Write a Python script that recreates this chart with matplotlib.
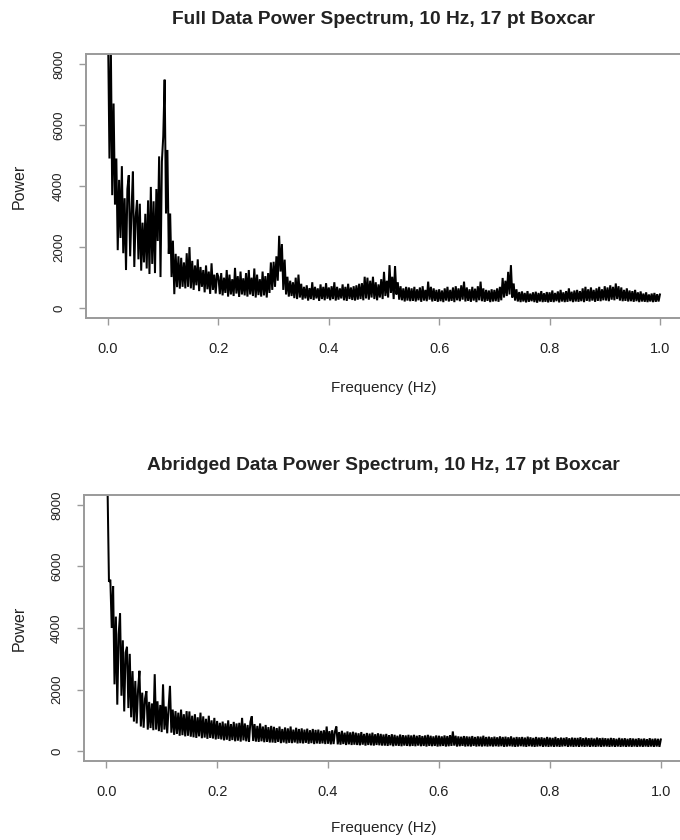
import numpy as np
import matplotlib
matplotlib.use("Agg")
import matplotlib.pyplot as plt

plt.rcParams['font.family'] = ['Liberation Sans', 'DejaVu Sans']

# frequency grid, 0.0025 Hz steps from 0 to 1 Hz
freq = np.arange(401) * 0.0025

# power, 20 values per 0.05 Hz
full_power = [
    9000, 4900, 8600, 3700, 6700, 3400, 4900, 1900, 4200, 2300, 4650, 1800, 3600, 1250, 3900, 4350, 1700, 3200, 4470, 1350,
    3000, 3530, 1600, 3420, 1230, 2800, 1500, 3090, 1300, 3530, 1120, 3970, 1450, 3500, 1150, 3900, 2200, 4970, 1020, 4800,
    5630, 7480, 3100, 5180, 1780, 3100, 1020, 2210, 460, 1780, 690, 1700, 640, 1650, 700, 1500, 650, 1800, 700, 2000,
    650, 1550, 600, 1400, 750, 1600, 560, 1350, 700, 1250, 520, 1400, 620, 1200, 470, 1470, 600, 1100, 480, 1150,
    1020, 460, 1150, 420, 1000, 500, 1250, 380, 1100, 450, 950, 400, 1320, 480, 1050, 370, 1200, 450, 980, 420,
    1150, 380, 1250, 450, 1000, 400, 1300, 350, 1100, 430, 950, 380, 1200, 420, 1050, 350, 1150, 500, 1500, 600,
    1520, 700, 1700, 900, 2370, 1200, 2100, 600, 1590, 450, 1030, 380, 900, 400, 850, 330, 1000, 300, 1100, 350,
    800, 280, 700, 320, 750, 250, 660, 300, 850, 270, 700, 320, 650, 240, 780, 300, 700, 260, 820, 310,
    680, 260, 720, 300, 850, 250, 700, 280, 650, 320, 780, 260, 700, 240, 800, 300, 680, 270, 720, 250,
    750, 280, 800, 300, 820, 260, 1030, 320, 1000, 280, 900, 350, 1030, 300, 850, 260, 780, 350, 950, 300,
    1190, 400, 900, 350, 1410, 500, 1030, 300, 1380, 450, 850, 280, 720, 260, 650, 220, 700, 250, 680, 230,
    650, 240, 700, 220, 620, 260, 680, 210, 720, 250, 600, 230, 870, 280, 700, 220, 650, 240, 600, 210,
    620, 230, 580, 200, 650, 250, 700, 220, 600, 240, 680, 200, 720, 260, 650, 230, 750, 280, 870, 220,
    680, 240, 620, 210, 700, 250, 640, 200, 720, 260, 870, 230, 650, 210, 600, 240, 580, 200, 620, 220,
    600, 230, 650, 210, 700, 260, 990, 350, 900, 400, 1190, 450, 1410, 350, 810, 250, 620, 220, 530, 200,
    550, 220, 500, 190, 560, 210, 480, 230, 520, 200, 540, 180, 500, 220, 560, 200, 490, 210, 530, 190,
    520, 210, 580, 200, 500, 230, 550, 190, 600, 220, 520, 200, 560, 210, 650, 230, 540, 200, 580, 220,
    600, 210, 560, 230, 650, 200, 700, 240, 620, 220, 680, 250, 600, 210, 650, 240, 700, 230, 620, 260,
    720, 250, 680, 230, 750, 280, 700, 260, 810, 300, 720, 250, 680, 230, 600, 240, 650, 220, 580, 230,
    560, 210, 600, 230, 520, 200, 550, 220, 480, 210, 520, 200, 450, 220, 480, 200, 500, 210, 460, 220,
    450,
]

# power
abridged_power = [
    12000, 8500, 5500, 5570, 4000, 5360, 2170, 4370, 1510, 3800, 4470, 1800, 3600, 1290, 3200, 3390, 1400, 3160, 1100, 2600,
    960, 2280, 900, 2000, 2610, 800, 1900, 760, 1700, 1950, 700, 1600, 750, 1550, 680, 2500, 700, 1620, 650, 1500,
    620, 2170, 700, 1450, 580, 1400, 2120, 600, 1350, 530, 1300, 560, 1250, 500, 1350, 520, 1200, 480, 1300, 500,
    1290, 470, 1150, 450, 1200, 430, 1100, 480, 1250, 420, 1130, 440, 1050, 400, 1150, 430, 1000, 410, 1080, 380,
    980, 400, 920, 380, 960, 350, 900, 370, 1000, 330, 880, 360, 950, 320, 900, 340, 920, 310, 1080, 350,
    900, 320, 850, 300, 950, 1130, 330, 880, 310, 820, 300, 900, 320, 800, 290, 850, 300, 780, 280, 820,
    280, 790, 270, 750, 300, 800, 260, 720, 280, 770, 250, 740, 270, 800, 260, 700, 280, 760, 250, 720,
    260, 740, 250, 700, 270, 730, 240, 680, 260, 720, 230, 690, 250, 700, 240, 660, 250, 680, 230, 800,
    240, 650, 220, 680, 230, 640, 800, 220, 620, 210, 660, 230, 600, 200, 640, 220, 610, 200, 630, 210,
    600, 200, 580, 190, 620, 210, 560, 180, 590, 200, 570, 190, 600, 180, 550, 200, 580, 190, 560, 180,
    540, 180, 560, 170, 520, 190, 550, 160, 530, 180, 500, 170, 540, 160, 520, 180, 510, 170, 530, 160,
    510, 170, 530, 160, 500, 180, 520, 160, 490, 170, 510, 150, 530, 170, 500, 160, 480, 170, 510, 150,
    500, 160, 480, 170, 510, 150, 490, 160, 520, 170, 640, 180, 500, 150, 480, 160, 470, 170, 490, 150,
    480, 160, 470, 150, 490, 170, 460, 150, 480, 160, 470, 150, 500, 160, 460, 150, 470, 160, 450, 150,
    470, 160, 450, 150, 480, 160, 460, 140, 470, 150, 450, 160, 480, 150, 440, 140, 460, 150, 450, 160,
    460, 150, 440, 140, 470, 160, 450, 150, 430, 140, 460, 150, 440, 160, 450, 140, 430, 150, 460, 140,
    440, 150, 430, 140, 460, 150, 420, 140, 440, 150, 430, 160, 450, 140, 420, 150, 440, 140, 430, 150,
    430, 140, 450, 150, 420, 140, 440, 150, 420, 140, 430, 150, 410, 140, 440, 150, 420, 140, 430, 150,
    420, 150, 410, 140, 430, 150, 420, 140, 400, 150, 430, 140, 410, 150, 420, 140, 400, 150, 420, 140,
    410, 150, 400, 140, 420, 150, 400, 140, 410, 150, 390, 140, 420, 150, 400, 140, 410, 150, 400, 140,
    380,
]

titles = ["Full Data Power Spectrum, 10 Hz, 17 pt Boxcar",
          "Abridged Data Power Spectrum, 10 Hz, 17 pt Boxcar"]
xticks = [0.0, 0.2, 0.4, 0.6, 0.8, 1.0]
yticks = [0, 2000, 4000, 6000, 8000]

W, H = 680, 840
fig = plt.figure(figsize=(W / 100, H / 100), dpi=100)

# axes boxes in pixels: left, top, right, bottom ; title centre y ; xlabel centre y
boxes = [(86, 54, 682, 318, 20, 388), (84, 495, 683, 761, 466, 828)]
spine_col = "#9a9a9a"
text_col = "#222222"

for power, title, (l, t, r, b, ty, ly) in zip([full_power, abridged_power], titles, boxes):
    ax = fig.add_axes([l / W, 1 - b / H, (r - l) / W, (b - t) / H])
    ax.plot(freq, power, color="black", lw=1.45, solid_joinstyle="miter")
    ax.set_xlim(-0.04, 1.04)
    ax.set_ylim(-320, 8320)
    ax.set_xticks(xticks)
    ax.set_xticklabels([f"{v:.1f}" for v in xticks])
    ax.set_yticks(yticks)
    ax.set_yticklabels([str(v) for v in yticks], rotation=90, va="center")
    ax.tick_params(axis="x", length=5, width=1, color=spine_col, pad=12,
                   labelsize=10.5, labelcolor=text_col)
    ax.tick_params(axis="y", length=5, width=1, color=spine_col, pad=10,
                   labelsize=9.5, labelcolor=text_col)
    for s in ax.spines.values():
        s.set_color(spine_col)
        s.set_linewidth(1.4)
    ax.set_xlabel("Frequency (Hz)", fontsize=11, color=text_col, va="center")
    ax.xaxis.set_label_coords(0.5, -(ly - b) / (b - t))
    ax.set_ylabel("Power", fontsize=11.5, color=text_col, va="center")
    ax.yaxis.set_label_coords(-(l - 19) / (r - l), 0.5)
    fig.text((l + r) / 2 / W, 1 - ty / H, title, ha="center", va="center",
             fontsize=13.8, fontweight="bold", color=text_col)

fig.savefig("out.png", dpi=100)
